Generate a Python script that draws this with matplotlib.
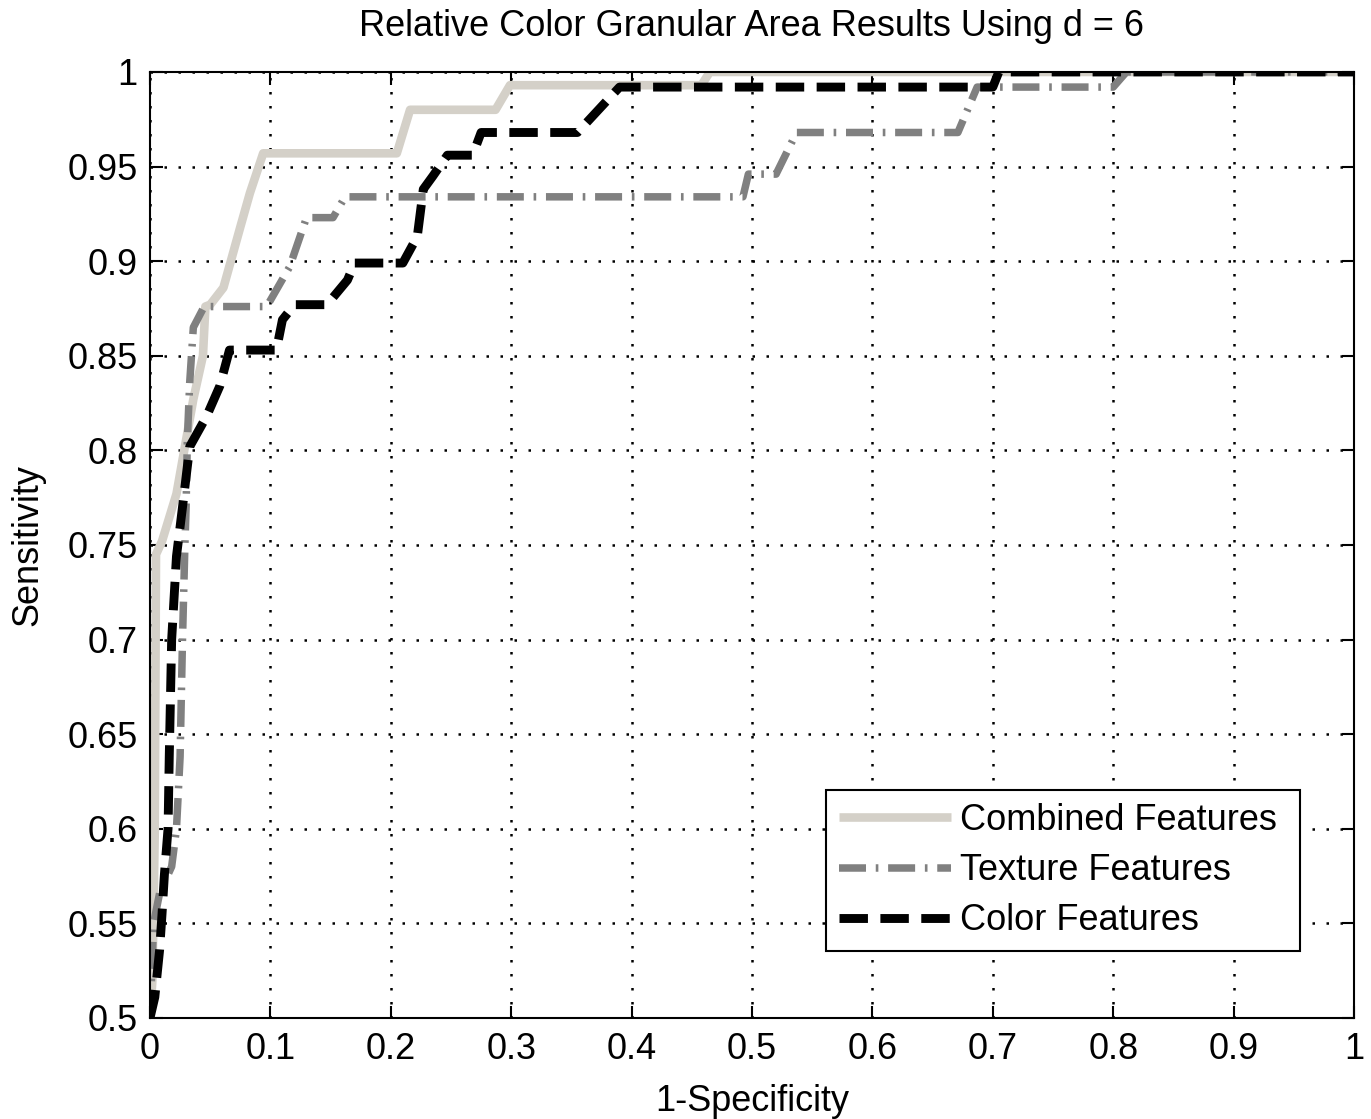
import matplotlib
matplotlib.use("Agg")
import matplotlib.pyplot as plt

# ---- data ----
comb_x = [0, 0.002, 0.004, 0.005, 0.010, 0.022, 0.036, 0.044, 0.046, 0.050, 0.061, 0.075, 0.083, 0.094,
          0.205, 0.216, 0.287, 0.299, 0.458, 0.465, 1.0]
comb_y = [0.5, 0.52, 0.60, 0.745, 0.752, 0.777, 0.827, 0.850, 0.876, 0.877, 0.886, 0.918, 0.936, 0.957,
          0.957, 0.980, 0.980, 0.993, 0.993, 1.0, 1.0]

tex_x = [0, 0.003, 0.008, 0.018, 0.022, 0.025, 0.027, 0.029, 0.030, 0.031, 0.033, 0.036, 0.045, 0.097,
         0.116, 0.130, 0.152, 0.162, 0.4925, 0.497, 0.520, 0.537, 0.671, 0.687, 0.800, 0.811, 1.0]
tex_y = [0.5, 0.55, 0.566, 0.580, 0.600, 0.638, 0.700, 0.750, 0.770, 0.805, 0.836, 0.865, 0.876, 0.876,
         0.897, 0.923, 0.923, 0.934, 0.934, 0.946, 0.946, 0.968, 0.968, 0.992, 0.992, 1.0, 1.0]

col_x = [0, 0.004, 0.008, 0.010, 0.012, 0.015, 0.016, 0.018, 0.022, 0.027, 0.033, 0.047, 0.058, 0.066,
         0.105, 0.110, 0.120, 0.147, 0.164, 0.170, 0.210, 0.222, 0.227, 0.235, 0.247, 0.268, 0.275,
         0.355, 0.390, 0.700, 0.705, 1.0]
col_y = [0.5, 0.511, 0.536, 0.555, 0.576, 0.600, 0.638, 0.700, 0.744, 0.770, 0.802, 0.818, 0.834, 0.853,
         0.853, 0.869, 0.877, 0.877, 0.890, 0.899, 0.899, 0.913, 0.938, 0.945, 0.956, 0.956, 0.968,
         0.968, 0.992, 0.992, 1.0, 1.0]

x_ticks = [0, 0.1, 0.2, 0.3, 0.4, 0.5, 0.6, 0.7, 0.8, 0.9, 1]
x_tick_labels = ["0", "0.1", "0.2", "0.3", "0.4", "0.5", "0.6", "0.7", "0.8", "0.9", "1"]
y_ticks = [0.5, 0.55, 0.6, 0.65, 0.7, 0.75, 0.8, 0.85, 0.9, 0.95, 1]
y_tick_labels = ["0.5", "0.55", "0.6", "0.65", "0.7", "0.75", "0.8", "0.85", "0.9", "0.95", "1"]

plt.rcParams['font.family'] = ['Liberation Sans', 'DejaVu Sans']

fig = plt.figure(figsize=(13.71, 11.19), dpi=100)
ax = fig.add_axes([0.1094, 0.0903, 0.8782, 0.8454])

ax.plot(comb_x, comb_y, color='#d4d0c8', lw=6.2, solid_capstyle='butt', label='Combined Features', zorder=3)
ax.plot(tex_x, tex_y, color='#808080', lw=5.4, linestyle=(0, (3.6, 1.3, 0.35, 1.3)),
        dash_capstyle='butt', label='Texture Features', zorder=4)
ax.plot(col_x, col_y, color='black', lw=6.4, linestyle=(0, (3.2, 1.4)),
        dash_capstyle='butt', label='Color Features', zorder=5)

ax.set_xlim(0, 1)
ax.set_ylim(0.5, 1)
ax.set_xticks(x_ticks)
ax.set_xticklabels(x_tick_labels)
ax.set_yticks(y_ticks)
ax.set_yticklabels(y_tick_labels)
ax.tick_params(direction='in', length=9, width=1.5, labelsize=26, pad=9, top=True, right=True)
ax.tick_params(axis='x', pad=10)
ax.grid(True, color='black', linestyle=(0, (1, 4.6)), linewidth=1.8)
for s in ax.spines.values():
    s.set_linewidth(1.5)
    s.set_zorder(6)

ax.set_title('Relative Color Granular Area Results Using d = 6', fontsize=26, pad=26)
ax.set_xlabel('1-Specificity', fontsize=26, labelpad=12)
ax.set_ylabel('Sensitivity', fontsize=26, labelpad=16)

leg = ax.legend(loc='lower left', bbox_to_anchor=(0.5615, 0.0708, 0.3935, 0.174), mode='expand',
                fontsize=26, frameon=True, fancybox=False, edgecolor='black', framealpha=1,
                handlelength=3.1, handletextpad=0.25, borderpad=0.35, labelspacing=0.42, borderaxespad=0)
leg.get_frame().set_linewidth(1.5)

fig.savefig('out.png', dpi=100)
